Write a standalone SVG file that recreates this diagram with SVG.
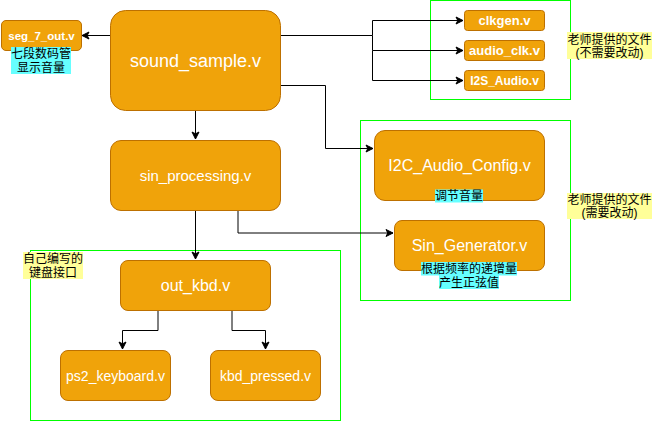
<svg xmlns="http://www.w3.org/2000/svg" width="661" height="421" viewBox="0 0 661 421">
<style>
.node{fill:#f0a30a;stroke:#BD7000;stroke-width:1}
.t{font-family:"Liberation Sans",Arial,sans-serif;fill:#ffffff;text-anchor:middle}
.b{font-weight:bold}
.grp{fill:none;stroke:#00FF00;stroke-width:1}
.lab{font-family:"Liberation Sans","Noto Sans CJK SC",sans-serif;font-size:12px;fill:#000000;text-anchor:middle}
.cy{fill:#66FFFF}
.ye{fill:#FFFF99}
.c{fill:none;stroke:#000000;stroke-width:1}
</style>
<defs>
<marker id="ah" markerWidth="10" markerHeight="10" refX="8" refY="5" orient="auto" markerUnits="userSpaceOnUse">
<path d="M1,1.5 L8,5 L1,8.5 L2.8,5 Z" fill="#000000" stroke="#000000" stroke-width="1"/>
</marker>
</defs>
<rect width="661" height="421" fill="#ffffff"/>
<g id="groups">
<rect class="grp" x="430.5" y="0.5" width="140" height="99"/>
<rect class="grp" x="360.5" y="120.5" width="210" height="180"/>
<rect class="grp" x="30.5" y="250.5" width="310" height="170"/>
</g>
<g id="connectors">
<path class="c" d="M110,35.5 H82" marker-end="url(#ah)"/>
<path class="c" d="M280,35.5 H372.5 V20.5 H463" marker-end="url(#ah)"/>
<path class="c" d="M372.5,35.5 V50.5 H463" marker-end="url(#ah)"/>
<path class="c" d="M372.5,50.5 V80.5 H463" marker-end="url(#ah)"/>
<path class="c" d="M280,85.5 H325.5 V148.5 H373" marker-end="url(#ah)"/>
<path class="c" d="M195.5,110 V139" marker-end="url(#ah)"/>
<path class="c" d="M238,210 V233 H393" marker-end="url(#ah)"/>
<path class="c" d="M195.5,210 V259" marker-end="url(#ah)"/>
<path class="c" d="M158,310 V330.5 H122.5 V349" marker-end="url(#ah)"/>
<path class="c" d="M232,310 V330.5 H265.5 V349" marker-end="url(#ah)"/>
</g>
<g id="sound_sample">
<rect class="node" x="110.5" y="10.5" width="170" height="100" rx="15" ry="15"/>
<text class="t" x="195.5" y="66.5" font-size="18">sound_sample.v</text>
</g>
<g id="seg_7_out">
<rect class="node" x="1.5" y="20.5" width="80" height="30" rx="4.5" ry="4.5"/>
<text class="t b" x="41.5" y="40" font-size="11.5">seg_7_out.v</text>
<rect class="cy" x="11" y="47" width="60" height="27"/>
<text class="lab" x="41" y="58">七段数码管</text>
<text class="lab" x="41" y="71.5">显示音量</text>
</g>
<g id="clkgen">
<rect class="node" x="464.5" y="10.5" width="80" height="20" rx="3" ry="3"/>
<text class="t b" x="504.5" y="25" font-size="13">clkgen.v</text>
</g>
<g id="audio_clk">
<rect class="node" x="464.5" y="40.5" width="80" height="20" rx="3" ry="3"/>
<text class="t b" x="504.5" y="55" font-size="13">audio_clk.v</text>
</g>
<g id="i2s_audio">
<rect class="node" x="464.5" y="70.5" width="80" height="20" rx="3" ry="3"/>
<text class="t b" x="504.5" y="85" font-size="12">I2S_Audio.v</text>
</g>
<g id="note_fixed">
<rect class="ye" x="567" y="32" width="85" height="27"/>
<text class="lab" x="609.5" y="43.5">老师提供的文件</text>
<text class="lab" x="609.5" y="57">(不需要改动)</text>
</g>
<g id="sin_processing">
<rect class="node" x="110.5" y="140.5" width="170" height="70" rx="10.5" ry="10.5"/>
<text class="t" x="195.5" y="180.5" font-size="15">sin_processing.v</text>
</g>
<g id="i2c_audio_config">
<rect class="node" x="374.5" y="130.5" width="170" height="70" rx="10.5" ry="10.5"/>
<text class="t" x="459.5" y="171" font-size="16">I2C_Audio_Config.v</text>
<rect class="cy" x="435" y="189.5" width="48" height="13"/>
<text class="lab" x="459" y="200">调节音量</text>
</g>
<g id="sin_generator">
<rect class="node" x="394.5" y="220.5" width="150" height="50" rx="7.5" ry="7.5"/>
<text class="t" x="469.5" y="251" font-size="16">Sin_Generator.v</text>
<rect class="cy" x="421" y="262" width="96" height="13.5"/>
<rect class="cy" x="439" y="275" width="60" height="14"/>
<text class="lab" x="469" y="273">根据频率的递增量</text>
<text class="lab" x="469" y="286.5">产生正弦值</text>
</g>
<g id="note_modify">
<rect class="ye" x="567" y="193" width="85" height="26"/>
<text class="lab" x="609.5" y="204">老师提供的文件</text>
<text class="lab" x="609.5" y="217">(需要改动)</text>
</g>
<g id="note_kbd">
<rect class="ye" x="23" y="252" width="60" height="27"/>
<text class="lab" x="53" y="263">自己编写的</text>
<text class="lab" x="53" y="276.5">键盘接口</text>
</g>
<g id="out_kbd">
<rect class="node" x="120.5" y="260.5" width="150" height="50" rx="7.5" ry="7.5"/>
<text class="t" x="195.5" y="291" font-size="16">out_kbd.v</text>
</g>
<g id="ps2_keyboard">
<rect class="node" x="60.5" y="350.5" width="110" height="50" rx="7.5" ry="7.5"/>
<text class="t" x="115.5" y="380.5" font-size="14">ps2_keyboard.v</text>
</g>
<g id="kbd_pressed">
<rect class="node" x="210.5" y="350.5" width="110" height="50" rx="7.5" ry="7.5"/>
<text class="t" x="265.5" y="380.5" font-size="14">kbd_pressed.v</text>
</g>
</svg>
